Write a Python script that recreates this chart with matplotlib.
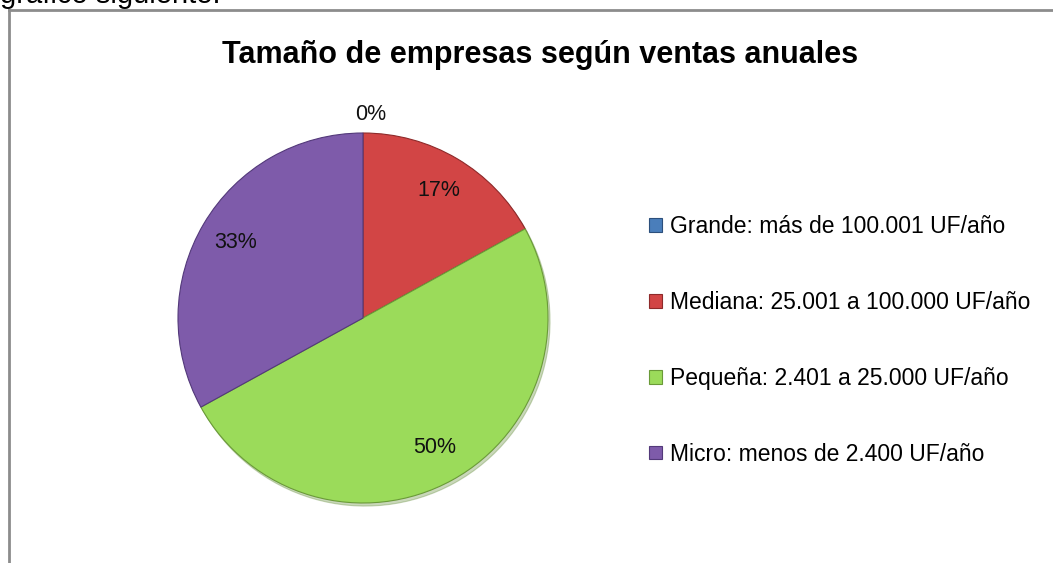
import matplotlib.pyplot as plt
from matplotlib.patches import Patch
from matplotlib.lines import Line2D
import numpy as np

plt.rcParams['font.family'] = ['Liberation Sans', 'DejaVu Sans']

# data
categories = ['Grande: más de 100.001 UF/año',
              'Mediana: 25.001 a 100.000 UF/año',
              'Pequeña: 2.401 a 25.000 UF/año',
              'Micro: menos de 2.400 UF/año']
shares = [0, 17, 50, 33]
colors = ['#4a7ebb', '#d24545', '#9bdb5a', '#7e5baa']
edge_colors = ['#2c4f7c', '#8e2a2a', '#6a9a38', '#53397a']

W, H = 1053, 563
fig = plt.figure(figsize=(W / 100, H / 100), dpi=100)

def fx(px):
    return px / W

def fy(py):
    return 1 - py / H

# text of the page cut off above the chart
fig.text(fx(0), fy(3), 'gráfico siguiente:', fontsize=21, va='baseline', ha='left')

# chart border (only top and left are visible)
fig.add_artist(Line2D([fx(9), 1.0], [fy(10), fy(10)], color='#8c8c8c', lw=2))
fig.add_artist(Line2D([fx(9), fx(9)], [fy(10), 0.0], color='#8c8c8c', lw=2))

fig.text(fx(540), fy(55), 'Tamaño de empresas según ventas anuales',
         fontsize=22, fontweight='bold', ha='center', va='center')

# pie: centre (363, 318) px, radius 185 px
cx, cy, r = 363, 318, 185
ax = fig.add_axes([fx(cx - r), fy(cy + r), 2 * r / W, 2 * r / H])
wedges, texts, autotexts = ax.pie(shares, colors=colors, startangle=90,
                                  counterclock=False, autopct='%1.0f%%',
                                  pctdistance=0.8,
                                  shadow={'ox': 0.008, 'oy': -0.012, 'shade': 0.35, 'alpha': 0.35},
                                  wedgeprops=dict(linewidth=0.8),
                                  textprops=dict(fontsize=15.5, color='#111111'))
for w, ec in zip(wedges, edge_colors):
    w.set_edgecolor(ec)
# the 0% label sits just above the pie
ang = np.deg2rad((wedges[0].theta1 + wedges[0].theta2) / 2)
autotexts[0].set_position((1.1 * np.cos(ang) + 0.04, 1.1 * np.sin(ang)))
ax.set_xlim(-1, 1)
ax.set_ylim(-1, 1)
ax.set_aspect('auto')

handles = [Patch(facecolor=c, edgecolor=ec, linewidth=0.8) for c, ec in zip(colors, edge_colors)]
fig.legend(handles, categories, loc='center left', bbox_to_anchor=(fx(649), fy(340.5)),
           frameon=False, fontsize=16.5, labelspacing=2.3, handlelength=0.55,
           handleheight=0.55, handletextpad=0.35, borderpad=0, borderaxespad=0)

fig.savefig('out.png', dpi=100, facecolor='white')
